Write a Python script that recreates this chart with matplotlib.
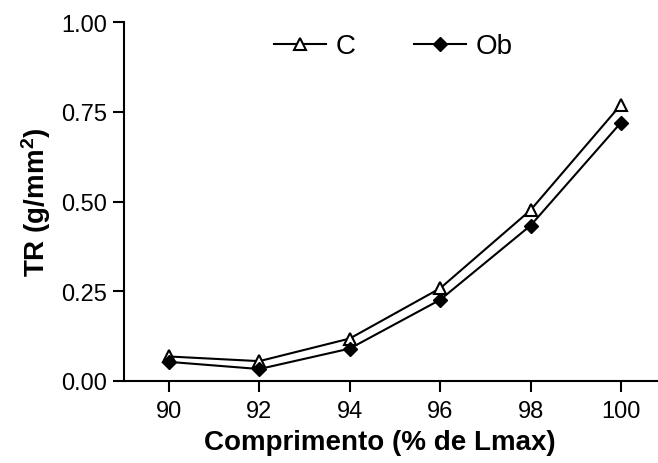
import matplotlib
matplotlib.use("Agg")
import matplotlib.pyplot as plt

x = [90, 92, 94, 96, 98, 100]
c_vals = [0.068, 0.055, 0.118, 0.258, 0.476, 0.770]
ob_vals = [0.053, 0.033, 0.090, 0.226, 0.433, 0.720]
xticks = [90, 92, 94, 96, 98, 100]
yticks = [0.00, 0.25, 0.50, 0.75, 1.00]

plt.rcParams['font.family'] = ['Liberation Sans', 'DejaVu Sans']
plt.rcParams['mathtext.fontset'] = 'custom'
plt.rcParams['mathtext.bf'] = 'Liberation Sans:bold'
plt.rcParams['mathtext.rm'] = 'Liberation Sans'

fig = plt.figure(figsize=(6.58, 4.64), dpi=100)
ax = fig.add_axes([0.188, 0.177, 0.812, 0.773])

ax.plot(x, c_vals, color='black', lw=1.5, marker='^', markersize=9,
        markerfacecolor='white', markeredgecolor='black', markeredgewidth=1.5, label='C')
ax.plot(x, ob_vals, color='black', lw=1.5, marker='D', markersize=7,
        markerfacecolor='black', markeredgecolor='black', label='Ob')

ax.set_xlim(89.0, 100.82)
ax.set_ylim(0, 1.0)
ax.set_xticks(xticks)
ax.set_xticklabels([str(t) for t in xticks])
ax.set_yticks(yticks)
ax.set_yticklabels([f"{t:.2f}" for t in yticks])

for s in ['top', 'right']:
    ax.spines[s].set_visible(False)
for s in ['left', 'bottom']:
    ax.spines[s].set_linewidth(1.5)
ax.tick_params(axis='both', direction='out', length=8, width=1.5, labelsize=17, pad=4)
ax.tick_params(axis='x', pad=6)

ax.set_xlabel('Comprimento (% de Lmax)', fontsize=20, fontweight='bold', labelpad=6)
ax.xaxis.set_label_coords(0.48, -0.135)
ax.set_ylabel('TR (g/mm$\\mathbf{^2}$)', fontsize=20, fontweight='bold', labelpad=6)

ax.legend(loc='center', bbox_to_anchor=(0.504, 0.933), ncol=2, frameon=False,
          fontsize=20, handlelength=1.9, columnspacing=2.1, handletextpad=0.32)

fig.savefig('out.png', dpi=100)
